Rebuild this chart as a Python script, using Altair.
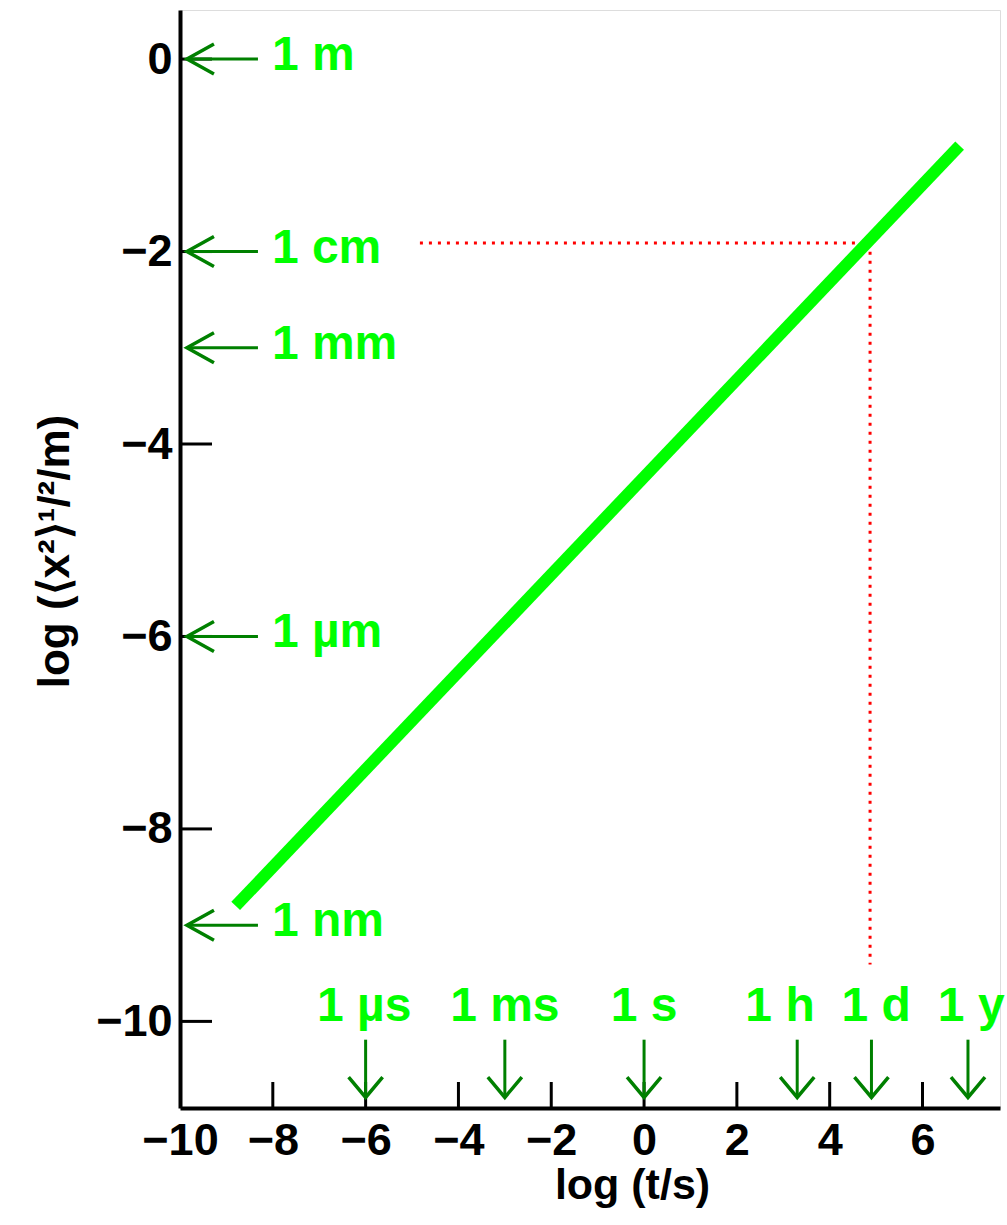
import altair as alt
import pandas as pd

# ---- data ----
line_t = [-8.8, 6.8]          # log(t/s)
line_x = [-8.8, -0.9]         # log(<x^2>^1/2 / m)

guide_t = [-4.83, 4.87, 4.87]  # red dotted guide
guide_x = [-1.91, -1.91, -9.41]

len_vals = [0, -2, -3, -6, -9]
len_labels = ["1 m", "1 cm", "1 mm", "1 µm", "1 nm"]

time_vals = [-6, -3, 0, 3.3, 4.9, 6.98]
time_label_pos = [-6.03, -3.0, 0, 2.93, 5.0, 7.05]
time_labels = ["1 µs", "1 ms", "1 s", "1 h", "1 d", "1 y"]

y_ticks = [0, -2, -4, -6, -8, -10]
x_ticks = [-10, -8, -6, -4, -2, 0, 2, 4, 6]

# ---- layout constants ----
W, H = 820, 1098
XDOM = [-10, 7.67]
YDOM = [-10.9, 0.51]
FONT = "Liberation Sans"
GREEN = "#00FF00"
DKGREEN = "#008000"

xs = alt.Scale(domain=XDOM, nice=False, zero=False)
ys = alt.Scale(domain=YDOM, nice=False, zero=False)

line_df = pd.DataFrame({"t": line_t, "x": line_x})
guide_df = pd.DataFrame({"t": guide_t, "x": guide_x, "o": list(range(len(guide_t)))})
len_df = pd.DataFrame({"y": len_vals, "label": len_labels,
                       "tip": -9.85, "tail": -8.32, "lx": -8.02})
time_df = pd.DataFrame({"t": time_vals, "lt": time_label_pos, "label": time_labels,
                        "top": -10.19, "tip": -10.79, "ly": -10.0})
yt_df = pd.DataFrame({"v": y_ticks})
xt_df = pd.DataFrame({"v": [v for v in x_ticks if v != -10]})

x_axis = alt.Axis(values=x_ticks, format="d", ticks=False, grid=False, domain=True,
                  domainColor="black", domainWidth=4,
                  labelFont=FONT, labelFontWeight="bold", labelFontSize=45,
                  labelColor="black", labelPadding=10, labelFlush=False,
                  title="log (t/s)", titleFont=FONT, titleFontWeight="bold",
                  titleFontSize=43, titleColor="black",
                  titleX=452, titleY=90, titleBaseline="alphabetic")
y_axis = alt.Axis(values=y_ticks, format="d", ticks=False, grid=False, domain=True,
                  domainColor="black", domainWidth=4,
                  labelFont=FONT, labelFontWeight="bold", labelFontSize=45,
                  labelColor="black", labelPadding=8,
                  title="log (⟨x²⟩¹/²/m)", titleFont=FONT, titleFontWeight="bold",
                  titleFontSize=44, titleColor="black",
                  titleX=-112, titleY=H / 2 - 8, titleAngle=270,
                  titleBaseline="alphabetic")

base_axes = alt.Chart(line_df).mark_line(strokeWidth=12, color=GREEN, strokeCap="butt").encode(
    x=alt.X("t:Q", scale=xs, axis=x_axis),
    y=alt.Y("x:Q", scale=ys, axis=y_axis),
)

guide = alt.Chart(guide_df).mark_line(color="#ff0000", strokeWidth=3,
                                      strokeDash=[3, 6]).encode(
    x=alt.X("t:Q", scale=xs), y=alt.Y("x:Q", scale=ys), order="o:Q")

ytick = alt.Chart(yt_df).mark_rule(color="black", strokeWidth=3).encode(
    y=alt.Y("v:Q", scale=ys), x=alt.value(0), x2=alt.value(32))
xtick = alt.Chart(xt_df).mark_rule(color="black", strokeWidth=3).encode(
    x=alt.X("v:Q", scale=xs), y=alt.value(H), y2=alt.value(H - 26))

# left-pointing arrows for lengths
l_shaft = alt.Chart(len_df).mark_rule(color=DKGREEN, strokeWidth=3).encode(
    y=alt.Y("y:Q", scale=ys), x=alt.X("tip:Q", scale=xs), x2="tail:Q")
l_head = alt.Chart(len_df).mark_point(
    shape="M 1.8 -1 L 0 0 L 1.8 1", filled=False, color=DKGREEN,
    strokeWidth=3.5, size=900, opacity=1).encode(
    y=alt.Y("y:Q", scale=ys), x=alt.X("tip:Q", scale=xs))
l_text = alt.Chart(len_df).mark_text(
    align="left", baseline="middle", dy=-3, font=FONT, fontWeight="bold",
    fontSize=48, color=GREEN).encode(
    y=alt.Y("y:Q", scale=ys), x=alt.X("lx:Q", scale=xs), text="label:N")

# down-pointing arrows for times
t_shaft = alt.Chart(time_df).mark_rule(color=DKGREEN, strokeWidth=3).encode(
    x=alt.X("t:Q", scale=xs), y=alt.Y("top:Q", scale=ys), y2="tip:Q")
t_head = alt.Chart(time_df).mark_point(
    shape="M -1 -1.2 L 0 0 L 1 -1.2", filled=False, color=DKGREEN,
    strokeWidth=3.5, size=1156, opacity=1).encode(
    x=alt.X("t:Q", scale=xs), y=alt.Y("tip:Q", scale=ys))
t_text = alt.Chart(time_df).mark_text(
    align="center", baseline="alphabetic", font=FONT, fontWeight="bold",
    fontSize=48, color=GREEN).encode(
    x=alt.X("lt:Q", scale=xs), y=alt.Y("ly:Q", scale=ys), text="label:N")

chart = alt.layer(
    guide, ytick, xtick, l_shaft, l_head, l_text, t_shaft, t_head, t_text, base_axes
).properties(
    width=W, height=H,
    autosize=alt.AutoSizeParams(type="none"),
    padding={"left": 180, "top": 10, "right": 7, "bottom": 117},
).configure_view(stroke=None).configure(background="white")

chart.save("out.html", embed_options={"renderer": "svg", "actions": False})
